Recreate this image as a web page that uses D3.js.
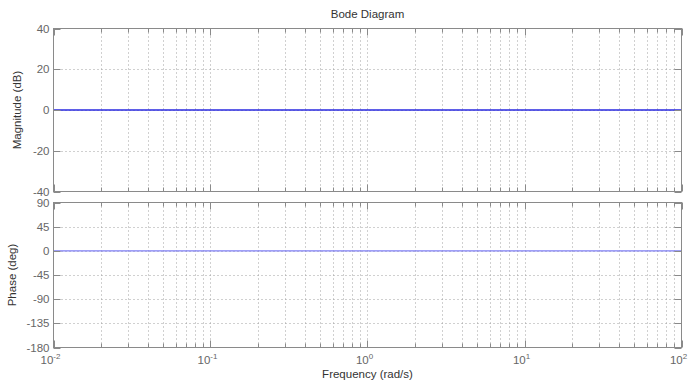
<!DOCTYPE html>
<html><head><meta charset="utf-8">
<script src="https://cdn.jsdelivr.net/npm/d3@7"></script>
<style>body{margin:0;background:#fff}svg{display:block}text{font-family:"Liberation Sans",Arial,sans-serif}</style>
</head><body><svg id="c" width="690" height="381"></svg>
<script>
const freqs = [0.01, 0.1, 1, 10, 100];
const magnitude = [0, 0, 0, 0, 0];
const phase = [0, 0, 0, 0, 0];
const xDecades = [-2, -1, 0, 1, 2];
const magTicks = [-40, -20, 0, 20, 40];
const phaseTicks = [-180, -135, -90, -45, 0, 45, 90];

const svg = d3.select("#c");
const L = 53.5, R = 681.5;
const x = d3.scaleLog().domain([0.01, 100]).range([L, R]);
const panels = [
  {top: 28.5, bottom: 191.5, dom: [-40, 40], ticks: magTicks, data: magnitude, color: "#2a2ae0", label: "Magnitude (dB)", lx: 21, bottomLabels: false},
  {top: 202.5, bottom: 347.5, dom: [-180, 90], ticks: phaseTicks, data: phase, color: "#7f7ff5", label: "Phase (deg)", lx: 16, bottomLabels: true}
];
const minor = [];
for (let d = -2; d < 2; d++) for (let k = 2; k <= 9; k++) minor.push(k * Math.pow(10, d));
const majors = xDecades.map(e => Math.pow(10, e));
const gridC = "#a0a0a0", axC = "#8a8a8a";

panels.forEach(p => {
  const y = d3.scaleLinear().domain(p.dom).range([p.bottom, p.top]);
  const g = svg.append("g");
  g.selectAll(".vg").data(majors.slice(1, -1).concat(minor)).enter().append("line")
    .attr("x1", d => Math.round(x(d)) + 0.5).attr("x2", d => Math.round(x(d)) + 0.5)
    .attr("y1", p.top).attr("y2", p.bottom)
    .attr("stroke", gridC).attr("stroke-dasharray", "1,3");
  g.selectAll(".hg").data(p.ticks.slice(1, -1)).enter().append("line")
    .attr("x1", L).attr("x2", R)
    .attr("y1", d => Math.round(y(d)) + 0.5).attr("y2", d => Math.round(y(d)) + 0.5)
    .attr("stroke", gridC).attr("stroke-dasharray", "1,3");
  const line = d3.line().x((d, i) => x(freqs[i])).y(d => y(d));
  g.append("path").datum(p.data).attr("d", line).attr("fill", "none")
    .attr("stroke", p.color).attr("stroke-width", 1.3);
  const tk = (vals, len) => {
    vals.forEach(v => {
      const xx = Math.round(x(v)) + 0.5;
      g.append("line").attr("x1", xx).attr("x2", xx).attr("y1", p.bottom).attr("y2", p.bottom - len).attr("stroke", axC);
      g.append("line").attr("x1", xx).attr("x2", xx).attr("y1", p.top).attr("y2", p.top + len).attr("stroke", axC);
    });
  };
  tk(majors, 7); tk(minor, 4);
  p.ticks.forEach(v => {
    const yy = Math.round(y(v)) + 0.5;
    g.append("line").attr("x1", L).attr("x2", L + 7).attr("y1", yy).attr("y2", yy).attr("stroke", axC);
    g.append("line").attr("x1", R).attr("x2", R - 7).attr("y1", yy).attr("y2", yy).attr("stroke", axC);
  });
  g.append("rect").attr("x", L).attr("y", p.top).attr("width", R - L).attr("height", p.bottom - p.top)
    .attr("fill", "none").attr("stroke", axC);
  g.selectAll(".yl").data(p.ticks).enter().append("text")
    .attr("x", L - 4).attr("y", d => y(d)).attr("dy", "0.35em")
    .attr("text-anchor", "end").attr("font-size", 11.5).attr("fill", "#666").text(d => d);
  g.append("text").attr("transform", `translate(${p.lx},${(p.top + p.bottom) / 2}) rotate(-90)`)
    .attr("text-anchor", "middle").attr("font-size", 11.5).attr("fill", "#333").text(p.label);
  if (p.bottomLabels) {
    xDecades.forEach((e, i) => {
      const t = g.append("text").attr("x", x(majors[i]) - 3).attr("y", p.bottom + 16)
        .attr("text-anchor", "middle").attr("font-size", 11.5).attr("fill", "#666");
      t.append("tspan").text("10");
      t.append("tspan").attr("dy", -5).attr("font-size", 8).text(e);
    });
  }
});
svg.append("text").attr("x", (L + R) / 2).attr("y", 18).attr("text-anchor", "middle")
  .attr("font-size", 11.5).attr("fill", "#333").text("Bode Diagram");
svg.append("text").attr("x", (L + R) / 2).attr("y", 377.5).attr("text-anchor", "middle")
  .attr("font-size", 11.5).attr("fill", "#333").text("Frequency (rad/s)");
</script></body></html>
